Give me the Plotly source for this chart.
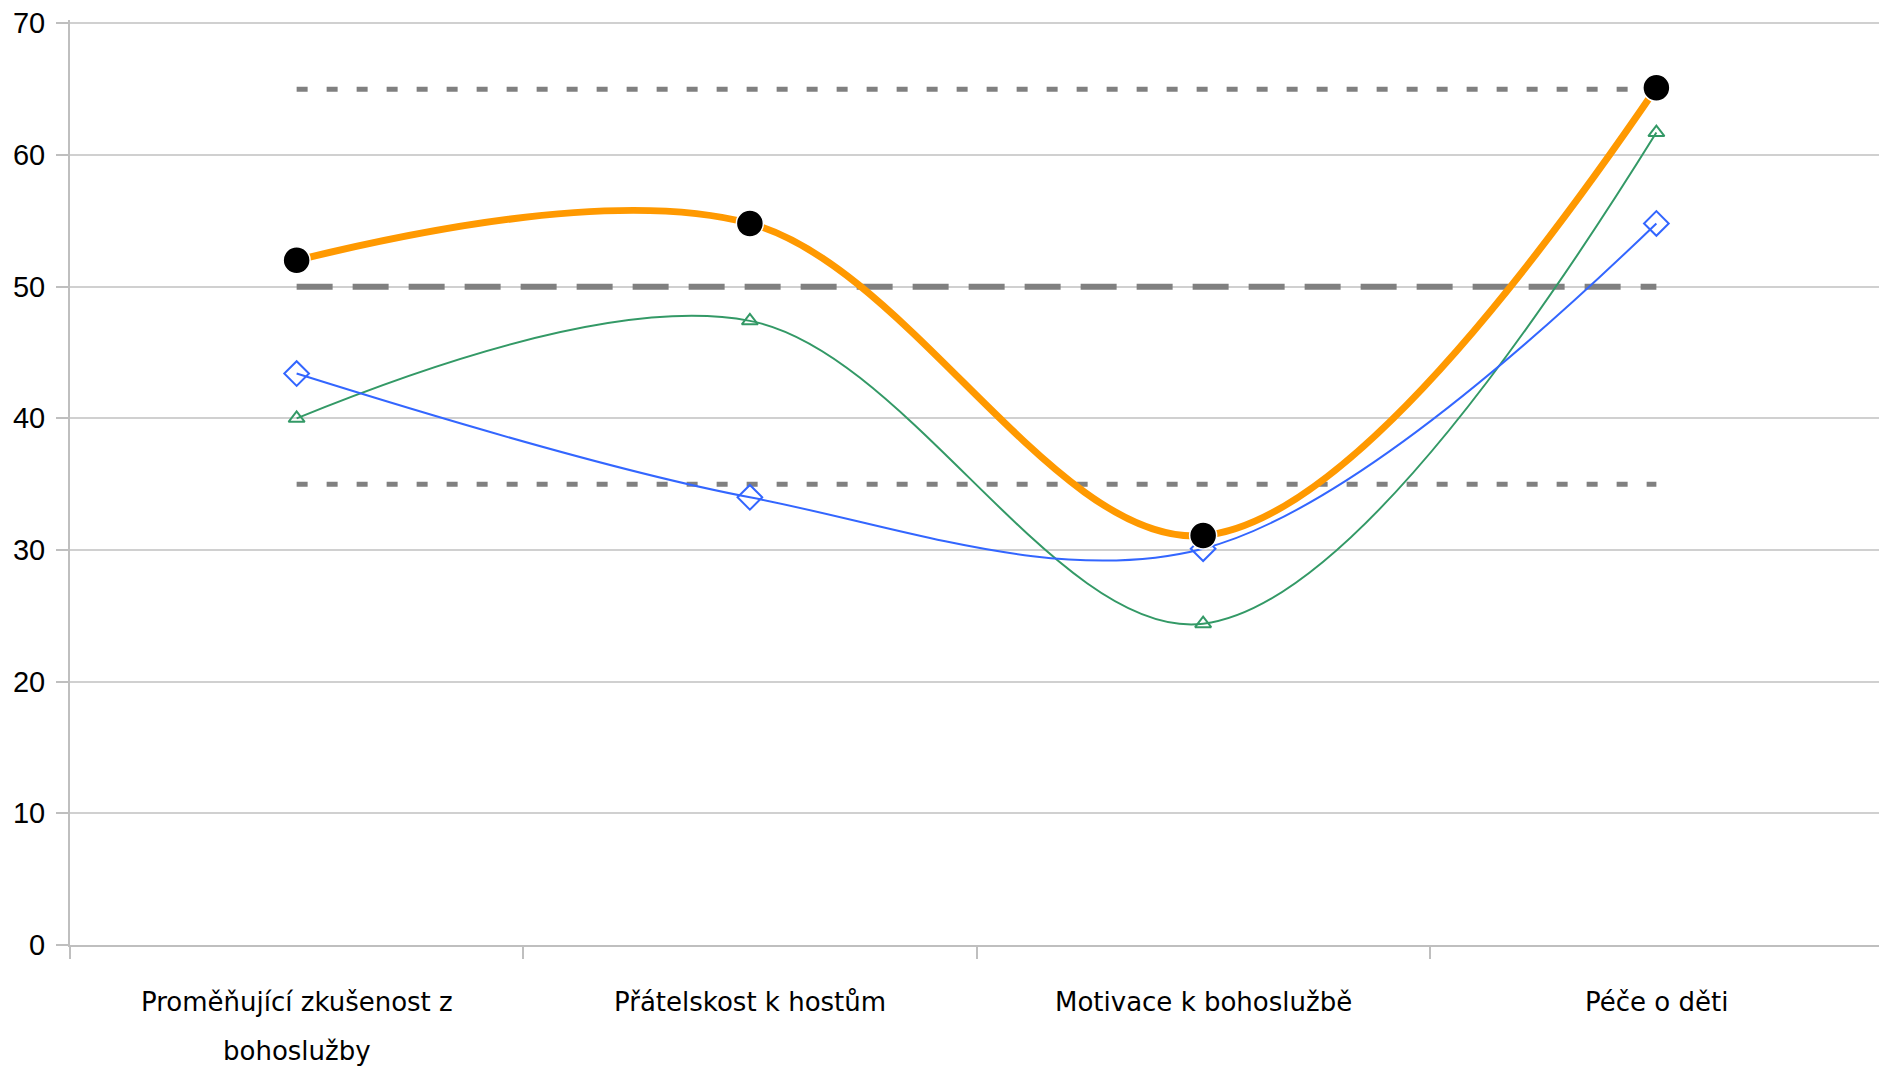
import plotly.graph_objects as go

categories = ["Proměňující zkušenost z<br>bohoslužby", "Přátelskost k hostům",
              "Motivace k bohoslužbě", "Péče o děti"]

orange_vals = [52.0, 54.8, 31.1, 65.1]
blue_vals = [43.4, 34.0, 30.1, 54.8]
green_vals = [40.0, 47.4, 24.4, 61.7]

upper_ref = 65
mid_ref = 50
lower_ref = 35

y_ticks = [0, 10, 20, 30, 40, 50, 60, 70]

ref_x = [categories[0], categories[-1]]

fig = go.Figure()

# reference lines
fig.add_trace(go.Scatter(x=ref_x, y=[upper_ref, upper_ref], mode="lines",
                         line=dict(color="#808080", width=5, dash="11px,19px")))
fig.add_trace(go.Scatter(x=ref_x, y=[mid_ref, mid_ref], mode="lines",
                         line=dict(color="#808080", width=6, dash="36px,20px")))
fig.add_trace(go.Scatter(x=ref_x, y=[lower_ref, lower_ref], mode="lines",
                         line=dict(color="#808080", width=5, dash="11px,19px")))

fig.add_trace(go.Scatter(x=categories, y=green_vals, mode="lines+markers",
                         line=dict(color="#339966", width=2, shape="spline"),
                         marker=dict(symbol="triangle-up-open", size=14,
                                     color="#339966", line=dict(width=2))))
fig.add_trace(go.Scatter(x=categories, y=blue_vals, mode="lines+markers",
                         line=dict(color="#3366FF", width=2, shape="spline"),
                         marker=dict(symbol="diamond-open", size=19,
                                     color="#3366FF", line=dict(width=2))))
fig.add_trace(go.Scatter(x=categories, y=orange_vals, mode="lines+markers",
                         line=dict(color="#FF9900", width=7, shape="spline"),
                         marker=dict(symbol="circle", size=27, color="black",
                                     line=dict(color="white", width=1.5))))

# category labels as annotations (wider line spacing than plotly ticks)
for cat in categories:
    for i, part in enumerate(cat.split("<br>")):
        fig.add_annotation(x=cat, y=0, xref="x", yref="paper", text=part,
                           showarrow=False, yanchor="middle",
                           yshift=-57 - 49 * i,
                           font=dict(size=26, family="DejaVu Sans", color="black"))

fig.update_layout(
    width=1879, height=1063,
    margin=dict(l=62, r=4, t=12, b=126),
    plot_bgcolor="white", paper_bgcolor="white",
    showlegend=False,
    font=dict(family="DejaVu Sans", color="black"),
)
fig.update_xaxes(
    type="category", range=[-0.5, 3.5], automargin=False,
    categoryorder="array", categoryarray=categories,
    tickson="boundaries", ticks="outside", ticklen=12, tickcolor="#BFBFBF",
    tickwidth=2, showline=True, linecolor="#BFBFBF", linewidth=2,
    showgrid=False, showticklabels=False,
)
fig.update_yaxes(
    range=[0, 70.25], tickvals=y_ticks, ticks="outside", ticklen=12,
    tickcolor="#BFBFBF", tickwidth=2, showline=True, linecolor="#BFBFBF",
    linewidth=2, showgrid=True, gridcolor="#D0D0D0", gridwidth=1.5,
    zeroline=False, ticklabelstandoff=5, ticklabeloverflow="allow",
    automargin=False,
    tickfont=dict(size=29, family="Liberation Sans Narrow, Liberation Sans"),
)

fig.write_html("out.html")
